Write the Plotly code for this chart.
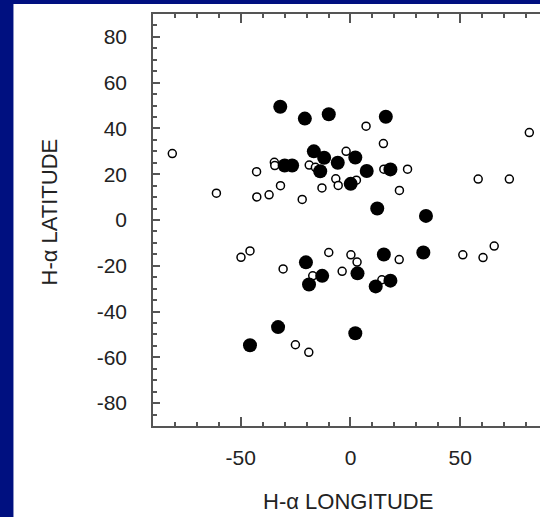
import plotly.graph_objects as go

# Filled (large) markers
filled_lon = [-32.0, -20.8, -9.9, 16.1, -30.0, -26.6, -16.7, -12.0, -5.8, 2.2,
              -13.8, 7.4, 18.2, 0.1, 12.2, 34.4, -20.3, 15.2, 33.2, -12.9,
              -18.9, 3.2, 11.5, 18.2, -33.0, -45.8, 2.2]
filled_lat = [49.5, 44.3, 46.2, 45.1, 23.8, 23.8, 30.0, 27.2, 25.0, 27.3,
              21.3, 21.4, 22.1, 15.8, 5.0, 1.8, -18.5, -15.1, -14.2, -24.4,
              -28.2, -23.3, -29.0, -26.5, -46.8, -54.7, -49.5]

# Open (small) markers
open_lon = [-81.2, -34.7, -34.5, -42.8, -61.1, -42.7, -37.1, -31.9, -22.0, -18.8,
            -16.0, -2.0, 7.1, 81.5, 15.0, 15.2, 26.0, -6.7, 2.7, -5.6,
            -13.0, 22.3, 58.2, 72.4, -49.9, -45.8, -30.7, -9.9, 0.2, 3.0,
            22.2, 51.2, 60.4, 65.5, -17.2, -3.8, 14.3, -25.1, -19.0]
open_lat = [29.0, 25.2, 23.8, 21.1, 11.7, 10.1, 11.0, 15.0, 9.0, 24.0,
            23.0, 30.0, 41.0, 38.2, 33.4, 22.2, 22.2, 18.0, 17.4, 15.1,
            14.0, 12.9, 17.9, 17.9, -16.3, -13.5, -21.4, -14.2, -15.2, -18.4,
            -17.3, -15.2, -16.4, -11.4, -24.4, -22.4, -26.1, -54.5, -57.8]

x_tickvals = [-50, 0, 50]
x_ticktext = ["-50", "0", "50"]
y_tickvals = [-80, -60, -40, -20, 0, 20, 40, 60, 80]
y_ticktext = ["-80", "-60", "-40", "-20", "0", "20", "40", "60", "80"]

x_title = "H-α LONGITUDE"
y_title = "H-α LATITUDE"

W, H = 540, 517
L, R, T, B = 153.4, 0, 13.5, 90.5
pw = W - L - R
ph = H - T - B

fig = go.Figure()
fig.add_trace(go.Scatter(
    x=open_lon, y=open_lat, mode="markers",
    marker=dict(size=8, color="white", line=dict(color="black", width=1.5)),
    showlegend=False, hoverinfo="x+y"))
fig.add_trace(go.Scatter(
    x=filled_lon, y=filled_lat, mode="markers",
    marker=dict(size=14, color="black", line=dict(width=0)),
    showlegend=False, hoverinfo="x+y"))

font = "Liberation Sans, Arial, sans-serif"
axcol = "#555555"

fig.update_layout(
    width=W, height=H,
    margin=dict(l=L, r=R, t=T, b=B, pad=0),
    paper_bgcolor="#001080",
    plot_bgcolor="white",
    font=dict(family=font, size=21, color="#222222"),
    shapes=[dict(type="rect", xref="paper", yref="paper",
                 x0=(14 - L) / pw, x1=1.05,
                 y0=-(H - T - ph) / ph - 0.05, y1=1 + (T - 3.5) / ph,
                 fillcolor="white", line=dict(width=0), layer="below")],
    annotations=[
        dict(text=x_title, xref="paper", yref="paper",
             x=(348 - L) / pw, y=(T + ph - 502) / ph,
             xanchor="center", yanchor="middle", showarrow=False,
             font=dict(family=font, size=22, color="#222222")),
        dict(text=y_title, xref="paper", yref="paper",
             x=(50 - L) / pw, y=(T + ph - 212) / ph, textangle=-90,
             xanchor="center", yanchor="middle", showarrow=False,
             font=dict(family=font, size=22, color="#222222")),
    ],
)
fig.update_xaxes(
    range=[-90, -90 + pw / 2.192], showgrid=False, zeroline=False,
    showline=True, linecolor=axcol, linewidth=1.5, mirror="ticks",
    tickmode="array", tickvals=x_tickvals, ticktext=x_ticktext,
    ticks="inside", ticklen=9, tickwidth=1.5, tickcolor=axcol,
    ticklabelstandoff=12,
    minor=dict(dtick=10, tick0=0, ticks="inside", ticklen=4, tickwidth=1.5, tickcolor=axcol, showgrid=False),
)
fig.update_yaxes(
    range=[-90, 90], showgrid=False, zeroline=False,
    showline=True, linecolor=axcol, linewidth=1.5, mirror=False,
    tickmode="array", tickvals=y_tickvals, ticktext=y_ticktext,
    ticks="inside", ticklen=7, tickwidth=1.5, tickcolor=axcol,
    ticklabelstandoff=20,
    minor=dict(dtick=5, tick0=0, ticks="inside", ticklen=4, tickwidth=1.5, tickcolor=axcol, showgrid=False),
)

fig.write_html("out.html", config={"displayModeBar": False},
               post_script="document.body.style.margin='0';document.body.style.overflow='hidden';")
